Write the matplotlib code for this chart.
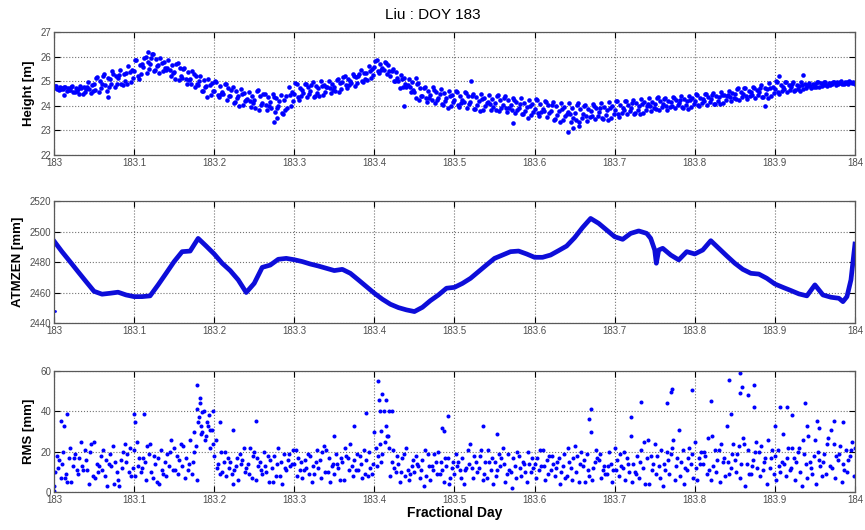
import numpy as np
import matplotlib
matplotlib.use("Agg")
import matplotlib.pyplot as plt

plt.rcParams['font.family'] = ['Liberation Sans', 'DejaVu Sans']

# ---- data ----
day0 = 183.0
step = 0.01   # strand sampling step in fractional day

# height [m], seven strands across the scatter band
height_mid = [24.72, 24.71, 24.65, 24.70, 24.68, 24.90, 24.88, 25.10, 25.12, 25.35,
              25.40, 25.70, 25.72, 25.68, 25.45, 25.38, 25.15, 25.10, 24.85, 24.80,
              24.60, 24.58, 24.42, 24.38, 24.22, 24.25, 24.12, 24.15, 24.00, 24.40,
              24.50, 24.65, 24.62, 24.72, 24.78, 24.78, 24.98, 25.02, 25.22, 25.32,
              25.58, 25.52, 25.22, 25.02, 24.78, 24.58, 24.42, 24.45, 24.32, 24.33,
              24.22, 24.25, 24.15, 24.18, 24.10, 24.12, 24.02, 24.05, 23.92, 23.95,
              23.88, 23.88, 23.78, 23.78, 23.68, 23.72, 23.68, 23.78, 23.75, 23.85,
              23.82, 23.92, 23.92, 24.00, 24.00, 24.08, 24.06, 24.14, 24.13, 24.20,
              24.18, 24.27, 24.28, 24.37, 24.38, 24.47, 24.48, 24.57, 24.58, 24.67,
              24.70, 24.77, 24.76, 24.82, 24.80, 24.87, 24.86, 24.93, 24.94, 24.96,
              24.90]
height_up = [24.79, 24.78, 24.80, 24.82, 24.95, 25.15, 25.30, 25.40, 25.45, 25.62,
             25.85, 25.95, 26.10, 25.95, 25.85, 25.70, 25.55, 25.40, 25.22, 25.10,
             24.98, 24.90, 24.78, 24.70, 24.58, 24.60, 24.50, 24.48, 24.45, 24.75,
             24.90, 24.88, 24.95, 25.00, 25.02, 25.05, 25.20, 25.30, 25.45, 25.60,
             25.85, 25.78, 25.50, 25.25, 25.10, 24.90, 24.78, 24.75, 24.70, 24.62,
             24.58, 24.55, 24.50, 24.48, 24.45, 24.40, 24.38, 24.32, 24.30, 24.25,
             24.22, 24.18, 24.15, 24.12, 24.10, 24.02, 24.02, 24.08, 24.10, 24.15,
             24.18, 24.18, 24.25, 24.28, 24.30, 24.30, 24.32, 24.35, 24.40, 24.42,
             24.45, 24.48, 24.52, 24.58, 24.62, 24.68, 24.72, 24.78, 24.85, 24.92,
             24.95, 24.95, 24.95, 24.96, 24.94, 24.95, 24.96, 24.98, 25.00, 24.99,
             24.93]
height_lo = [24.66, 24.62, 24.58, 24.50, 24.52, 24.58, 24.62, 24.75, 24.85, 24.98,
             25.10, 25.35, 25.45, 25.40, 25.20, 25.05, 24.90, 24.75, 24.60, 24.45,
             24.35, 24.25, 24.15, 24.05, 23.95, 23.85, 23.82, 23.75, 23.65, 24.00,
             24.25, 24.35, 24.40, 24.45, 24.52, 24.58, 24.72, 24.82, 24.98, 25.12,
             25.32, 25.28, 25.02, 24.78, 24.55, 24.25, 24.15, 24.10, 24.05, 24.00,
             23.95, 23.92, 23.88, 23.85, 23.82, 23.78, 23.75, 23.70, 23.65, 23.62,
             23.60, 23.55, 23.48, 23.42, 23.35, 23.35, 23.40, 23.45, 23.48, 23.52,
             23.55, 23.65, 23.70, 23.72, 23.78, 23.82, 23.85, 23.90, 23.92, 23.95,
             23.98, 24.02, 24.08, 24.12, 24.18, 24.22, 24.28, 24.32, 24.35, 24.40,
             24.50, 24.58, 24.65, 24.68, 24.72, 24.78, 24.82, 24.86, 24.90, 24.91,
             24.87]
height_a = [24.75, 24.74, 24.74, 24.76, 24.84, 25.00, 25.12, 25.22, 25.30, 25.45,
            25.66, 25.80, 25.92, 25.80, 25.68, 25.52, 25.38, 25.22, 25.05, 24.92,
            24.80, 24.72, 24.60, 24.52, 24.42, 24.40, 24.35, 24.30, 24.25, 24.55,
            24.72, 24.75, 24.80, 24.85, 24.88, 24.92, 25.08, 25.18, 25.32, 25.48,
            25.70, 25.65, 25.38, 25.12, 24.95, 24.72, 24.62, 24.58, 24.52, 24.46,
            24.42, 24.38, 24.34, 24.32, 24.28, 24.25, 24.22, 24.16, 24.12, 24.08,
            24.06, 24.02, 23.98, 23.95, 23.92, 23.86, 23.86, 23.92, 23.94, 23.98,
            24.02, 24.05, 24.10, 24.14, 24.16, 24.18, 24.20, 24.24, 24.28, 24.30,
            24.32, 24.36, 24.41, 24.46, 24.51, 24.56, 24.60, 24.66, 24.72, 24.78,
            24.84, 24.85, 24.86, 24.89, 24.88, 24.91, 24.92, 24.95, 24.97, 24.98,
            24.92]
height_b = [24.69, 24.66, 24.62, 24.58, 24.62, 24.72, 24.78, 24.90, 25.00, 25.15,
            25.28, 25.50, 25.60, 25.52, 25.35, 25.20, 25.05, 24.90, 24.75, 24.60,
            24.50, 24.40, 24.30, 24.20, 24.10, 24.02, 23.98, 23.92, 23.85, 24.18,
            24.40, 24.48, 24.52, 24.58, 24.64, 24.68, 24.84, 24.94, 25.10, 25.24,
            25.45, 25.40, 25.14, 24.90, 24.66, 24.40, 24.30, 24.25, 24.20, 24.15,
            24.10, 24.06, 24.02, 24.00, 23.96, 23.92, 23.90, 23.85, 23.80, 23.76,
            23.74, 23.70, 23.64, 23.58, 23.52, 23.52, 23.55, 23.60, 23.62, 23.68,
            23.70, 23.78, 23.82, 23.85, 23.90, 23.94, 23.96, 24.02, 24.04, 24.08,
            24.10, 24.14, 24.20, 24.24, 24.30, 24.34, 24.38, 24.44, 24.48, 24.53,
            24.60, 24.66, 24.70, 24.74, 24.76, 24.82, 24.84, 24.89, 24.92, 24.94,
            24.89]
height_c = [24.79, 24.68, 24.76, 24.48, 24.75, 24.64, 25.23, 24.89, 25.27, 24.90,
            25.86, 25.57, 25.95, 25.34, 25.54, 25.11, 25.48, 24.89, 25.02, 24.35,
            25.01, 24.47, 24.65, 23.99, 24.29, 23.93, 24.47, 23.92, 24.20, 23.90,
            24.91, 24.53, 24.83, 24.39, 24.78, 24.62, 25.16, 24.93, 25.29, 25.05,
            25.82, 25.44, 25.40, 24.73, 24.84, 24.31, 24.73, 24.24, 24.47, 23.90,
            24.61, 24.14, 24.38, 23.79, 24.16, 23.84, 24.33, 23.84, 24.07, 23.52,
            24.26, 23.77, 24.03, 23.35, 23.75, 23.41, 23.98, 23.59, 23.90, 23.42,
            24.21, 23.83, 24.13, 23.67, 24.06, 23.87, 24.29, 24.00, 24.24, 23.88,
            24.47, 24.19, 24.45, 24.08, 24.43, 24.27, 24.71, 24.43, 24.71, 24.30,
            24.99, 24.70, 24.88, 24.62, 24.84, 24.78, 24.95, 24.89, 24.97, 24.89,
            24.95]
height_d = [24.68, 24.78, 24.56, 24.72, 24.70, 25.18, 24.83, 25.29, 24.87, 25.38,
            25.23, 25.97, 25.43, 25.76, 25.46, 25.73, 25.08, 25.29, 24.62, 24.83,
            24.45, 24.87, 24.13, 24.47, 24.21, 24.63, 24.02, 24.37, 23.70, 24.44,
            24.35, 24.88, 24.37, 24.81, 24.72, 25.09, 24.86, 25.23, 24.99, 25.41,
            25.40, 25.74, 25.01, 25.09, 24.77, 24.93, 24.33, 24.64, 24.07, 24.38,
            24.05, 24.54, 23.86, 24.27, 24.08, 24.46, 23.93, 24.24, 23.67, 24.00,
            23.70, 24.17, 23.44, 23.89, 23.65, 24.11, 23.58, 23.99, 23.50, 23.90,
            23.65, 24.18, 23.67, 24.09, 23.99, 24.34, 23.99, 24.30, 23.94, 24.24,
            24.05, 24.49, 24.06, 24.44, 24.37, 24.74, 24.41, 24.73, 24.36, 24.72,
            24.57, 24.95, 24.62, 24.86, 24.81, 24.96, 24.85, 24.97, 24.89, 24.96,
            24.88]
height_out_day = [183.012, 183.067, 183.118, 183.124, 183.275, 183.278, 183.437, 183.452,
                  183.521, 183.573, 183.642, 183.648, 183.655, 183.888, 183.935, 183.905]
height_out_val = [24.45, 24.35, 26.2, 26.1, 23.35, 23.5, 24.0, 25.15,
                  25.0, 23.3, 22.95, 23.1, 23.2, 24.0, 25.25, 25.2]

# ATMZEN [mm] trace
atm_day = [183.00, 183.01, 183.02, 183.03, 183.04, 183.05, 183.06, 183.07, 183.08, 183.09,
           183.10, 183.11, 183.12, 183.13, 183.14, 183.15, 183.16, 183.17, 183.18, 183.19,
           183.20, 183.21, 183.22, 183.23, 183.24, 183.25, 183.26, 183.27, 183.28, 183.29,
           183.30, 183.31, 183.32, 183.33, 183.34, 183.35, 183.36, 183.37, 183.38, 183.39,
           183.40, 183.41, 183.42, 183.43, 183.44, 183.45, 183.46, 183.47, 183.48, 183.49,
           183.50, 183.51, 183.52, 183.53, 183.54, 183.55, 183.56, 183.57, 183.58, 183.59,
           183.60, 183.61, 183.62, 183.63, 183.64, 183.65, 183.66, 183.67, 183.68, 183.69,
           183.70, 183.71, 183.72, 183.73, 183.74, 183.745, 183.75, 183.752, 183.755, 183.76,
           183.77, 183.78, 183.79, 183.80, 183.81, 183.82, 183.83, 183.84, 183.85, 183.86,
           183.87, 183.88, 183.89, 183.90, 183.91, 183.92, 183.93, 183.94, 183.95, 183.96,
           183.97, 183.98, 183.985, 183.99, 183.995, 184.00]
atm_val = [2493.8, 2486.8, 2480.3, 2473.7, 2467.2, 2460.8, 2458.9, 2459.5, 2460.2, 2458.4,
           2457.3, 2457.3, 2457.8, 2465.0, 2472.6, 2480.3, 2486.8, 2487.2, 2495.5, 2490.5,
           2485.3, 2479.2, 2474.4, 2468.3, 2460.0, 2466.0, 2476.5, 2478.0, 2481.8, 2482.4,
           2481.5, 2480.3, 2478.7, 2477.4, 2475.9, 2474.4, 2475.2, 2472.6, 2468.3, 2463.9,
           2459.5, 2455.6, 2452.3, 2450.1, 2448.6, 2447.5, 2450.3, 2454.7, 2458.4, 2462.8,
           2463.4, 2466.0, 2469.3, 2473.7, 2478.1, 2482.4, 2484.6, 2486.8, 2487.2, 2485.3,
           2483.1, 2483.1, 2484.6, 2487.5, 2490.5, 2496.0, 2502.7, 2508.6, 2505.4, 2501.0,
           2496.6, 2494.9, 2498.8, 2500.4, 2498.8, 2495.5, 2487.9, 2479.2, 2487.9, 2489.0,
           2484.6, 2481.4, 2486.8, 2485.3, 2487.9, 2494.0, 2489.0, 2484.0, 2479.2, 2475.2,
           2472.6, 2472.1, 2469.3, 2465.6, 2463.4, 2461.3, 2459.1, 2457.8, 2465.0, 2458.4,
           2456.9, 2456.2, 2454.0, 2457.3, 2468.3, 2491.8]
atm_out_day = [183.001]
atm_out_val = [2448.0]

# RMS [mm], six strands
rms_1 = [3, 14, 22, 9, 16, 25, 11, 19, 6, 15,
         21, 12, 24, 17, 8, 22, 13, 26, 35, 28,
         18, 10, 15, 6, 12, 20, 9, 16, 22, 11,
         14, 7, 18, 12, 21, 9, 15, 24, 11, 16,
         30, 19, 8, 14, 22, 10, 16, 6, 20, 13,
         9, 17, 24, 12, 7, 15, 22, 10, 18, 5,
         14, 21, 11, 17, 8, 23, 13, 30, 16, 9,
         22, 12, 28, 7, 17, 24, 3, 19, 31, 11,
         25, 14, 6, 21, 33, 16, 27, 9, 20, 4,
         18, 29, 12, 22, 7, 26, 15, 31, 19, 10, 22]
rms_2 = [10, 20, 5, 17, 11, 7, 21, 13, 3, 19,
         8, 17, 10, 4, 19, 11, 23, 9, 44, 33,
         26, 15, 9, 19, 14, 6, 20, 12, 8, 16,
         21, 11, 5, 16, 10, 19, 6, 13, 18, 8,
         22, 40, 15, 5, 11, 18, 3, 13, 9, 17,
         19, 4, 12, 18, 21, 8, 14, 2, 12, 20,
         7, 13, 18, 4, 22, 10, 16, 6, 19, 13,
         11, 20, 5, 15, 26, 9, 14, 22, 8, 17,
         12, 20, 28, 5, 15, 10, 24, 13, 8, 26,
         6, 14, 22, 10, 28, 4, 19, 12, 23, 16, 9]
rms_3 = [18, 7, 13, 25, 4, 14, 8, 23, 16, 10,
         25, 15, 7, 21, 13, 18, 7, 15, 29, 38,
         12, 20, 4, 14, 9, 17, 13, 5, 15, 19,
         8, 16, 13, 7, 17, 14, 22, 8, 14, 20,
         13, 25, 21, 10, 6, 14, 21, 11, 15, 4,
         13, 11, 7, 21, 15, 11, 5, 17, 8, 14,
         17, 6, 14, 10, 15, 18, 5, 12, 7, 20,
         16, 6, 14, 21, 4, 18, 11, 26, 15, 22,
         6, 18, 13, 24, 9, 19, 3, 16, 23, 12,
         21, 8, 17, 3, 15, 20, 9, 24, 5, 18, 14]
rms_4 = [12, 9, 17, 13, 20, 10, 16, 4, 12, 22,
         13, 6, 18, 11, 20, 9, 17, 20, 30, 22,
         14, 8, 11, 16, 22, 13, 10, 18, 4, 13,
         17, 12, 9, 20, 5, 12, 18, 16, 7, 12,
         18, 33, 12, 17, 9, 13, 8, 19, 11, 7,
         15, 12, 18, 6, 11, 19, 9, 13, 15, 10,
         11, 16, 8, 13, 12, 5, 19, 15, 11, 14,
         8, 17, 10, 12, 18, 13, 20, 6, 21, 14,
         17, 9, 21, 15, 12, 23, 14, 20, 11, 17,
         13, 17, 6, 26, 12, 16, 24, 7, 14, 21, 17]
rms_5 = [16, 5, 19, 11, 24, 13, 3, 15, 20, 8,
         17, 23, 14, 9, 26, 16, 11, 23, 40, 31,
         9, 17, 13, 22, 7, 15, 18, 8, 19, 14,
         11, 19, 15, 23, 13, 6, 17, 11, 21, 9,
         24, 28, 10, 19, 13, 7, 19, 15, 5, 12,
         11, 21, 15, 9, 17, 13, 19, 7, 14, 17,
         21, 9, 12, 19, 6, 14, 11, 21, 13, 5,
         19, 14, 9, 25, 11, 7, 16, 13, 4, 19,
         14, 27, 10, 17, 19, 7, 21, 25, 15, 21,
         10, 22, 15, 19, 9, 13, 27, 18, 11, 25, 12]
rms_6 = [7, 17, 11, 21, 8, 18, 14, 10, 24, 12,
         10, 19, 5, 15, 11, 24, 14, 6, 26, 24,
         20, 12, 17, 10, 18, 11, 5, 14, 12, 21,
         15, 9, 21, 10, 14, 17, 11, 19, 9, 14,
         15, 22, 18, 8, 16, 11, 13, 9, 17, 15,
         7, 14, 10, 15, 4, 17, 11, 20, 10, 12,
         13, 18, 15, 7, 17, 20, 8, 17, 9, 11,
         13, 10, 18, 4, 14, 21, 9, 17, 12, 7,
         20, 11, 16, 8, 24, 14, 9, 12, 17, 9,
         15, 11, 20, 14, 18, 8, 13, 16, 21, 8, 20]
rms_out_day = [183.016, 183.009, 183.012, 183.100, 183.101, 183.1125, 183.179, 183.182,
               183.178, 183.185, 183.181, 183.199, 183.191, 183.207, 183.252, 183.224,
               183.175, 183.183, 183.195, 183.405, 183.409, 183.415, 183.406, 183.422,
               183.418, 183.407, 183.390, 183.374, 183.4925, 183.536, 183.408, 183.416,
               183.485, 183.349, 183.4875, 183.553, 183.670, 183.668, 183.733, 183.720,
               183.771, 183.770, 183.765, 183.797, 183.857, 183.843, 183.859, 183.874,
               183.856, 183.866, 183.820, 183.874, 183.845, 183.907, 183.915, 183.922,
               183.937, 183.953, 183.974, 183.985, 183.900, 183.940, 183.955, 183.000]
rms_out_val = [38.5, 35.5, 33, 38.5, 34.7, 38.5, 53.3, 46.8,
               41.3, 39.7, 37, 40, 35, 35, 35.5, 31,
               30, 33, 31, 55, 48.8, 45.5, 45.5, 40.2,
               40.2, 40.2, 39, 32.7, 37.5, 33, 30.5, 28,
               31.7, 28, 30.5, 29, 41.3, 36, 44.7, 37,
               51, 49.7, 44, 50.5, 59.3, 55.5, 52, 53,
               49, 48, 45, 42, 38.5, 42, 42, 38,
               44, 35.5, 35.5, 34.7, 33, 33, 32, 0.5]

xtick_vals = [183, 183.1, 183.2, 183.3, 183.4, 183.5, 183.6, 183.7, 183.8, 183.9, 184]
xtick_labels = ['183', '183.1', '183.2', '183.3', '183.4', '183.5',
                '183.6', '183.7', '183.8', '183.9', '184']


def strand_days(vals, offset):
    return day0 + step * np.arange(len(vals)) + offset


blue = (0, 0, 1)

fig = plt.figure(figsize=(8.65, 5.30), dpi=100)
ax1 = fig.add_axes([0.0624, 0.7075, 0.926, 0.232])
ax2 = fig.add_axes([0.0624, 0.3906, 0.926, 0.230])
ax3 = fig.add_axes([0.0624, 0.0717, 0.926, 0.228])

# height
for vals, off in [(height_mid, 0.0), (height_c, 0.0014), (height_up, 0.0029),
                  (height_d, 0.0043), (height_lo, 0.0057), (height_a, 0.0071),
                  (height_b, 0.0086)]:
    d = strand_days(vals, off)
    keep = d <= 184.0
    ax1.plot(d[keep], np.array(vals)[keep], 'o', color=blue, ms=3.3, mew=0)
ax1.plot(height_out_day, height_out_val, 'o', color=blue, ms=3.3, mew=0)
ax1.set_ylim(22, 27)
ax1.set_yticks([22, 23, 24, 25, 26, 27])
ax1.set_ylabel('Height [m]', fontsize=9.5, fontweight='bold')

# atmzen
ax2.plot(atm_day, atm_val, '-', color=(0.05, 0.05, 0.85), lw=3.4, solid_joinstyle='round')
ax2.plot(atm_out_day, atm_out_val, 'o', color=blue, ms=2, mew=0)
ax2.set_ylim(2440, 2520)
ax2.set_yticks([2440, 2460, 2480, 2500, 2520])
ax2.set_ylabel('ATMZEN [mm]', fontsize=9.5, fontweight='bold')

# rms
for vals, off in [(rms_1, 0.0), (rms_2, 0.0017), (rms_3, 0.0033),
                  (rms_4, 0.005), (rms_5, 0.0067), (rms_6, 0.0083)]:
    d = strand_days(vals, off)
    keep = d <= 184.0
    ax3.plot(d[keep], np.array(vals)[keep], 'o', color=blue, ms=2.9, mew=0)
ax3.plot(rms_out_day, rms_out_val, 'o', color=blue, ms=2.9, mew=0)
ax3.set_ylim(0, 60)
ax3.set_yticks([0, 20, 40, 60])
ax3.set_ylabel('RMS [mm]', fontsize=9.5, fontweight='bold')
ax3.set_xlabel('Fractional Day', fontsize=10, fontweight='bold', labelpad=1)

for ax in (ax1, ax2, ax3):
    ax.set_xlim(183, 184)
    ax.set_xticks(xtick_vals)
    ax.set_xticklabels(xtick_labels)
    ax.grid(True, linestyle=':', color='0.45', linewidth=0.8)
    ax.tick_params(direction='in', length=4, top=True, right=True,
                   labelsize=7, labelcolor='0.3', pad=2)
    for sp in ax.spines.values():
        sp.set_color('0.35')
        sp.set_linewidth(0.9)

fig.text(0.5, 0.972, 'Liu : DOY 183', ha='center', va='center', fontsize=11)

fig.savefig('out.png', dpi=100)
